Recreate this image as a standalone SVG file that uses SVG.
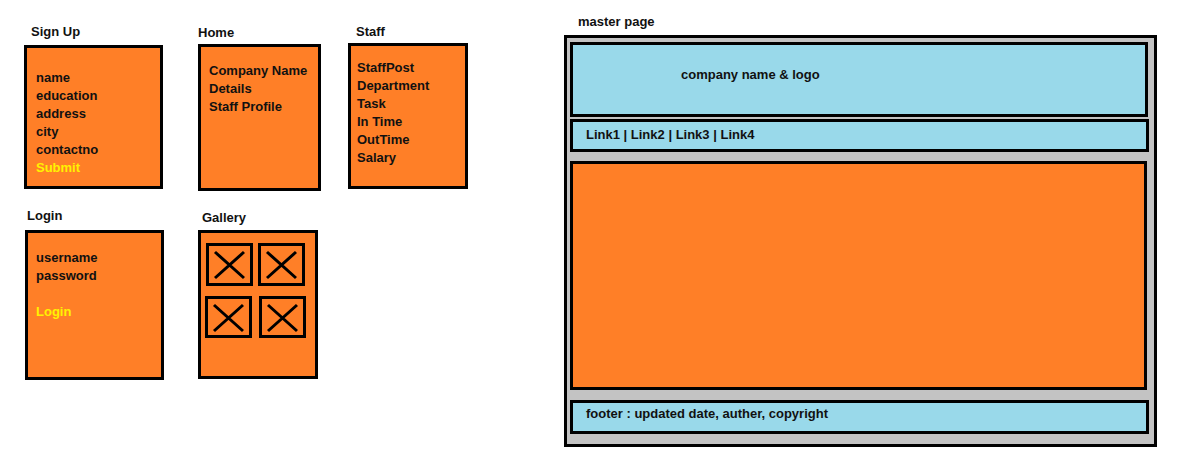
<svg xmlns="http://www.w3.org/2000/svg" width="1197" height="461" viewBox="0 0 1197 461">
<style>
text{font-family:"Liberation Sans",Arial,sans-serif;font-weight:bold;font-size:13px;fill:#111}
.box{fill:#FF7F27;stroke:#000;stroke-width:3}
.blue{fill:#99D9EA;stroke:#000;stroke-width:3}
.y{fill:#FFF200}
.img{fill:#FF7F27;stroke:#000;stroke-width:3}
.x{stroke:#000;stroke-width:3;fill:none}
</style>
<rect width="1197" height="461" fill="#fff"/>
<g id="signup">
<text x="31" y="36">Sign Up</text>
<rect class="box" x="25.5" y="46.5" width="136" height="141"/>
<text x="36" y="82">name</text>
<text x="36" y="100">education</text>
<text x="36" y="118">address</text>
<text x="36" y="136">city</text>
<text x="36" y="154">contactno</text>
<text x="36" y="172" class="y">Submit</text>
</g>
<g id="home">
<text x="198" y="37">Home</text>
<rect class="box" x="199.5" y="45.5" width="120" height="144"/>
<text x="209" y="75">Company Name</text>
<text x="209" y="93">Details</text>
<text x="209" y="111">Staff Profile</text>
</g>
<g id="staff">
<text x="356" y="36">Staff</text>
<rect class="box" x="349.5" y="44.5" width="117" height="143"/>
<text x="357" y="72">StaffPost</text>
<text x="357" y="90">Department</text>
<text x="357" y="108">Task</text>
<text x="357" y="126">In Time</text>
<text x="357" y="144">OutTime</text>
<text x="357" y="162">Salary</text>
</g>
<g id="login">
<text x="27" y="220">Login</text>
<rect class="box" x="26.5" y="231.5" width="136" height="147"/>
<text x="36" y="262">username</text>
<text x="36" y="280">password</text>
<text x="36" y="316" class="y">Login</text>
</g>
<g id="gallery">
<text x="202" y="222">Gallery</text>
<rect class="box" x="199.5" y="231.5" width="117" height="146"/>
<rect class="img" x="207.5" y="244.5" width="44" height="40"/>
<path class="x" d="M215 252L244 278M244 252L215 278"/>
<rect class="img" x="259.5" y="244.5" width="44" height="40"/>
<path class="x" d="M267 252L296 278M296 252L267 278"/>
<rect class="img" x="206.5" y="297.5" width="44" height="39"/>
<path class="x" d="M214 305L243 331M243 305L214 331"/>
<rect class="img" x="260.5" y="297.5" width="44" height="39"/>
<path class="x" d="M268 305L297 331M297 305L268 331"/>
</g>
<g id="master">
<text x="578" y="26">master page</text>
<rect x="565.5" y="36.5" width="590" height="409" fill="#C3C3C3" stroke="#000" stroke-width="3"/>
<rect class="blue" x="571.5" y="43.5" width="575" height="72"/>
<text x="681" y="79">company name &amp; logo</text>
<rect class="blue" x="571.5" y="120.5" width="576" height="30"/>
<text x="586" y="139">Link1 | Link2 | Link3 | Link4</text>
<rect class="box" x="571.5" y="162.5" width="574" height="226"/>
<rect class="blue" x="571.5" y="401.5" width="576" height="31"/>
<text x="586" y="418">footer : updated date, auther, copyright</text>
</g>
<g id="connectors"/>
</svg>
